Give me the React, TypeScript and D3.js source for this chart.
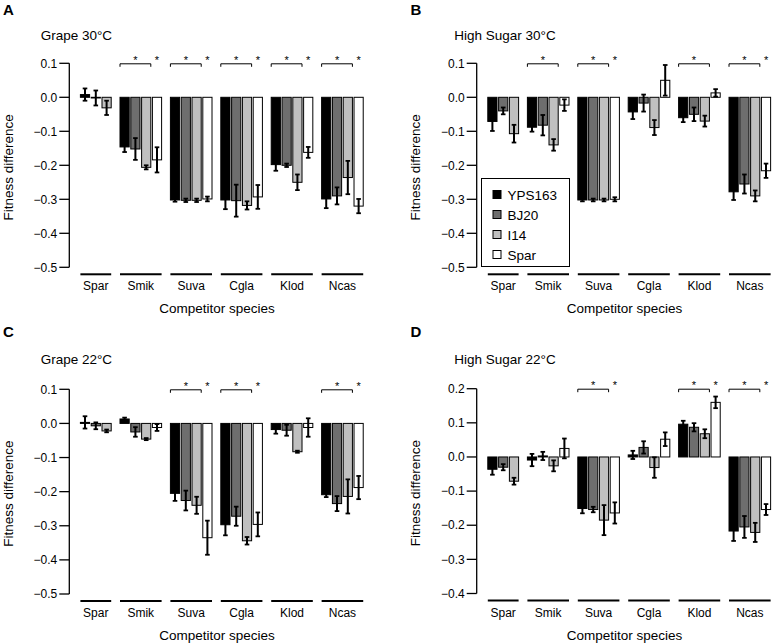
import React from "react";
import * as d3 from "d3";

const categories = ["Spar", "Smik", "Suva", "Cgla", "Klod", "Ncas"];
const strains = ["YPS163", "BJ20", "I14", "Spar"];
const strainFill = ["#000000", "#6e6e6e", "#c0c0c0", "#ffffff"];

// means per category: [YPS163, BJ20, I14, Spar]
const grape30Mean = [
  [0.008, -0.002, -0.031, null],
  [-0.146, -0.152, -0.206, -0.184],
  [-0.302, -0.303, -0.303, -0.299],
  [-0.302, -0.304, -0.318, -0.293],
  [-0.198, -0.2, -0.25, -0.162],
  [-0.299, -0.29, -0.236, -0.32],
];
const grape30Err = [
  [0.018, 0.022, 0.021, null],
  [0.015, 0.032, 0.006, 0.037],
  [0.005, 0.005, 0.005, 0.007],
  [0.027, 0.047, 0.012, 0.035],
  [0.018, 0.005, 0.023, 0.016],
  [0.027, 0.025, 0.049, 0.021],
];
const sugar30Mean = [
  [-0.071, -0.04, -0.107, null],
  [-0.088, -0.082, -0.14, -0.023],
  [-0.302, -0.302, -0.302, -0.3],
  [-0.043, -0.017, -0.089, 0.05],
  [-0.06, -0.05, -0.07, 0.013],
  [-0.278, -0.255, -0.29, -0.216],
];
const sugar30Err = [
  [0.028, 0.01, 0.026, null],
  [0.013, 0.03, 0.017, 0.017],
  [0.004, 0.004, 0.004, 0.006],
  [0.021, 0.025, 0.022, 0.045],
  [0.013, 0.02, 0.016, 0.011],
  [0.024, 0.028, 0.016, 0.021],
];
const grape22Mean = [
  [0.003, -0.007, -0.022, null],
  [0.013, -0.025, -0.046, -0.012],
  [-0.205, -0.226, -0.24, -0.335],
  [-0.297, -0.272, -0.344, -0.296],
  [-0.018, -0.02, -0.083, -0.012],
  [-0.209, -0.235, -0.214, -0.188],
];
const grape22Err = [
  [0.018, 0.01, 0.004, null],
  [0.004, 0.014, 0.003, 0.01],
  [0.022, 0.029, 0.025, 0.05],
  [0.031, 0.028, 0.011, 0.035],
  [0.012, 0.016, 0.003, 0.027],
  [0.007, 0.022, 0.05, 0.034],
];
const sugar22Mean = [
  [-0.036, -0.03, -0.071, null],
  [-0.009, 0.003, -0.026, 0.025],
  [-0.151, -0.154, -0.185, -0.164],
  [0.006, 0.028, -0.031, 0.052],
  [0.096, 0.087, 0.068, 0.16],
  [-0.217, -0.205, -0.221, -0.154],
];
const sugar22Err = [
  [0.016, 0.009, 0.01, null],
  [0.018, 0.012, 0.016, 0.029],
  [0.014, 0.008, 0.044, 0.031],
  [0.012, 0.018, 0.03, 0.02],
  [0.01, 0.012, 0.013, 0.017],
  [0.029, 0.032, 0.028, 0.016],
];

const grape30Bracket = ["Smik", "Suva", "Cgla", "Klod", "Ncas"];
const grape30Star = ["Smik", "Suva", "Cgla", "Klod", "Ncas"];
const sugar30Bracket = ["Smik", "Suva", "Klod", "Ncas"];
const sugar30Star = ["Suva", "Ncas"];
const grape22Bracket = ["Suva", "Cgla", "Ncas"];
const grape22Star = ["Suva", "Cgla", "Ncas"];
const sugar22Bracket = ["Suva", "Klod", "Ncas"];
const sugar22Star = ["Suva", "Klod", "Ncas"];

const ticks3 = [0.1, 0.0, -0.1, -0.2, -0.3, -0.4, -0.5];
const ticks4 = [0.2, 0.1, 0.0, -0.1, -0.2, -0.3, -0.4];

const FONT = "Liberation Sans, Arial, Helvetica, sans-serif";

type PanelProps = {
  letter: string;
  title: string;
  mean: (number | null)[][];
  err: (number | null)[][];
  bracket: string[];
  star: string[];
  domain: [number, number];
  tickVals: number[];
  axisX: number;
  yTop: number;
  yBot: number;
  letterY: number;
  titleX: number;
  titleY: number;
  legend?: boolean;
};

function Panel(p: PanelProps) {
  const y = d3.scaleLinear().domain(p.domain).range([p.yBot, p.yTop]);
  const step = 10.8;
  const bw = 9.2;
  const groupExtra = 0.667;
  const x0 = p.axisX + 11.1;
  const ux = d3.scaleLinear().domain([0, 1]).range([x0, x0 + step]);
  // unit start of each group
  const starts: number[] = [];
  let u = 0;
  categories.forEach((c, i) => {
    starts.push(u);
    const n = p.mean[i].filter((v) => v !== null).length;
    u += n + groupExtra;
  });
  const fmt = d3.format(".1f");
  const y0 = y(0);
  const underlineY = p.yBot + 7;
  const plotMid = (p.axisX + ux(u - groupExtra) ) / 2;

  return (
    <g>
      <text x={p.axisX - 66.3} y={p.letterY} fontSize={15} fontWeight="bold" fontFamily={FONT}>
        {p.letter}
      </text>
      <text x={p.titleX} y={p.titleY} fontSize={13.5} fontFamily={FONT}>
        {p.title}
      </text>
      {/* y axis */}
      <line x1={p.axisX} x2={p.axisX} y1={y(p.domain[1])} y2={y(p.domain[0])} stroke="#000" strokeWidth={1.3} />
      {p.tickVals.map((t) => (
        <g key={t}>
          <line x1={p.axisX - 10} x2={p.axisX} y1={y(t)} y2={y(t)} stroke="#000" strokeWidth={1.3} />
          <text x={p.axisX - 12} y={y(t) + 4.2} fontSize={12} textAnchor="end" fontFamily={FONT}>
            {fmt(t)}
          </text>
        </g>
      ))}
      <text
        transform={`translate(${p.axisX - 56.5},${(y(p.domain[1]) + y(p.domain[0])) / 2 + 2}) rotate(-90)`}
        fontSize={13.5}
        textAnchor="middle"
        fontFamily={FONT}
      >
        Fitness difference
      </text>
      {/* bars */}
      {categories.map((c, i) => {
        const bars = p.mean[i];
        const n = bars.filter((v) => v !== null).length;
        const gx0 = ux(starts[i]);
        const gx1 = ux(starts[i] + n - 1) + bw;
        return (
          <g key={c}>
            {bars.map((m, k) => {
              if (m === null) return null;
              const bx = ux(starts[i] + k);
              const e = p.err[i][k] as number;
              const cx = bx + bw / 2;
              return (
                <g key={k}>
                  <rect
                    x={bx}
                    y={Math.min(y(m), y0)}
                    width={bw}
                    height={Math.abs(y(m) - y0)}
                    fill={strainFill[k]}
                    stroke="#000"
                    strokeWidth={1}
                  />
                  <line x1={cx} x2={cx} y1={y(m + e)} y2={y(m - e)} stroke="#000" strokeWidth={2} />
                  <line x1={cx - 2.3} x2={cx + 2.3} y1={y(m + e)} y2={y(m + e)} stroke="#000" strokeWidth={1.8} />
                  <line x1={cx - 2.3} x2={cx + 2.3} y1={y(m - e)} y2={y(m - e)} stroke="#000" strokeWidth={1.8} />
                </g>
              );
            })}
            <line x1={gx0} x2={gx1} y1={underlineY} y2={underlineY} stroke="#000" strokeWidth={2} />
            <text x={(gx0 + gx1) / 2} y={p.yBot + 23} fontSize={12} textAnchor="middle" fontFamily={FONT}>
              {c}
            </text>
            {p.bracket.includes(c) && (
              <g>
                <path
                  d={`M${gx0},${p.yTop + 3.5}V${p.yTop + 0.5}H${ux(starts[i] + 2) + bw}V${p.yTop + 3.5}`}
                  fill="none"
                  stroke="#000"
                  strokeWidth={1}
                />
                <text
                  x={(gx0 + ux(starts[i] + 2) + bw) / 2}
                  y={p.yTop + 0.5}
                  fontSize={11}
                  textAnchor="middle"
                  fontFamily={FONT}
                >
                  *
                </text>
              </g>
            )}
            {p.star.includes(c) && (
              <text x={ux(starts[i] + 3) + bw / 2} y={p.yTop + 0.5} fontSize={11} textAnchor="middle" fontFamily={FONT}>
                *
              </text>
            )}
          </g>
        );
      })}
      <text x={plotMid} y={p.yBot + 46} fontSize={13.5} textAnchor="middle" fontFamily={FONT}>
        Competitor species
      </text>
      {p.legend && (
        <g>
          <rect x={481.5} y={178.5} width={88} height={88} fill="#fff" stroke="#000" strokeWidth={1} />
          {strains.map((s, k) => (
            <g key={s}>
              <rect x={493} y={190.5 + k * 20} width={8} height={8} fill={strainFill[k]} stroke="#000" strokeWidth={1} />
              <text x={507.5} y={199.5 + k * 20} fontSize={13.5} fontFamily={FONT}>
                {s}
              </text>
            </g>
          ))}
        </g>
      )}
    </g>
  );
}

export default function App() {
  return (
    <svg
      width={772}
      height={644}
      style={{ position: "absolute", left: 0, top: 0, background: "#fff" }}
      xmlns="http://www.w3.org/2000/svg"
    >
      <rect width={772} height={644} fill="#fff" />
      <Panel
        letter="A"
        title="Grape 30°C"
        mean={grape30Mean}
        err={grape30Err}
        bracket={grape30Bracket}
        star={grape30Star}
        domain={[-0.5, 0.1]}
        tickVals={ticks3}
        axisX={69.3}
        yTop={63.3}
        yBot={267.3}
        letterY={15}
        titleX={40.7}
        titleY={39.5}
      />
      <Panel
        letter="B"
        title="High Sugar 30°C"
        mean={sugar30Mean}
        err={sugar30Err}
        bracket={sugar30Bracket}
        star={sugar30Star}
        domain={[-0.5, 0.1]}
        tickVals={ticks3}
        axisX={476.7}
        yTop={63.3}
        yBot={267.3}
        letterY={15}
        titleX={454.3}
        titleY={39.5}
        legend
      />
      <Panel
        letter="C"
        title="Grape 22°C"
        mean={grape22Mean}
        err={grape22Err}
        bracket={grape22Bracket}
        star={grape22Star}
        domain={[-0.5, 0.1]}
        tickVals={ticks3}
        axisX={69.3}
        yTop={389.3}
        yBot={594}
        letterY={337}
        titleX={40.7}
        titleY={364}
      />
      <Panel
        letter="D"
        title="High Sugar 22°C"
        mean={sugar22Mean}
        err={sugar22Err}
        bracket={sugar22Bracket}
        star={sugar22Star}
        domain={[-0.4, 0.2]}
        tickVals={ticks4}
        axisX={476.7}
        yTop={388.7}
        yBot={593.5}
        letterY={337}
        titleX={454.3}
        titleY={364}
      />
    </svg>
  );
}
